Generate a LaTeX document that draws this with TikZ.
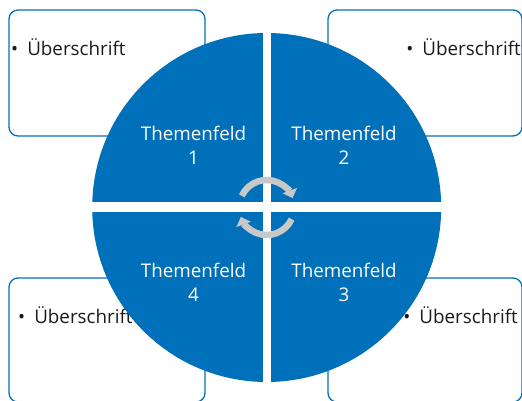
\documentclass[tikz,border=0pt]{standalone}
\usepackage{fontspec}
\setmainfont{Open Sans}
\usetikzlibrary{arrows.meta}
\definecolor{themeblue}{HTML}{0070BA}
\definecolor{cyclegray}{HTML}{C8C8C8}
\definecolor{textdark}{HTML}{1A1A1A}
\begin{document}
\begin{tikzpicture}[x=1pt,y=1pt,
  infobox/.style={draw=themeblue, line width=1.3pt, rounded corners=9pt, inner sep=0pt},
  infotext/.style={text=textdark, font=\fontsize{18.8}{22}\selectfont, inner sep=0pt},
  fieldtext/.style={text=white, align=center, font=\fontsize{18.8}{24}\selectfont, inner sep=0pt},
  cyclearrow/.style={draw=cyclegray, line width=6.5pt, -{Triangle[width=15pt,length=8pt]}}]
\useasboundingbox (0,0) rectangle (522,401);

% Boxes
\node[infobox, minimum width=196, minimum height=126] (box1) at (107,328) {};
\node[infobox, minimum width=194, minimum height=126] (box2) at (425,328) {};
\node[infobox, minimum width=196, minimum height=124] (box4) at (107,61) {};
\node[infobox, minimum width=194, minimum height=124] (box3) at (425,61) {};

% Headings
\node[infotext, anchor=west] (head1) at (11,354) {•\hspace{9pt}Überschrift};
\node[infotext, anchor=east] (head2) at (521,354) {•\hspace{9pt}Überschrift};
\node[infotext, anchor=west] (head4) at (18,86) {•\hspace{9pt}Überschrift};
\node[infotext, anchor=east] (head3) at (518,86) {•\hspace{9pt}Überschrift};

% Circle with white cross
\coordinate (center) at (266.7,193.5);
\fill[themeblue] (center) circle[radius=174.5];
\begin{scope}
  \clip (center) circle[radius=175];
  \fill[white] (262.7,15) rectangle (270.7,372);
  \fill[white] (90,188.5) rectangle (444,198.5);
\end{scope}

% Fields
\node[fieldtext] (field1) at (193.5,256) {Themenfeld\\1};
\node[fieldtext] (field2) at (344,256) {Themenfeld\\2};
\node[fieldtext] (field4) at (193.5,119) {Themenfeld\\4};
\node[fieldtext] (field3) at (344,119) {Themenfeld\\3};

% Cycle arrows
\draw[cyclearrow] (center) ++(155:27.5) arc[start angle=155, end angle=20, radius=27.5];
\draw[cyclearrow] (center) ++(-25:27.5) arc[start angle=-25, end angle=-160, radius=27.5];

\end{tikzpicture}
\end{document}
